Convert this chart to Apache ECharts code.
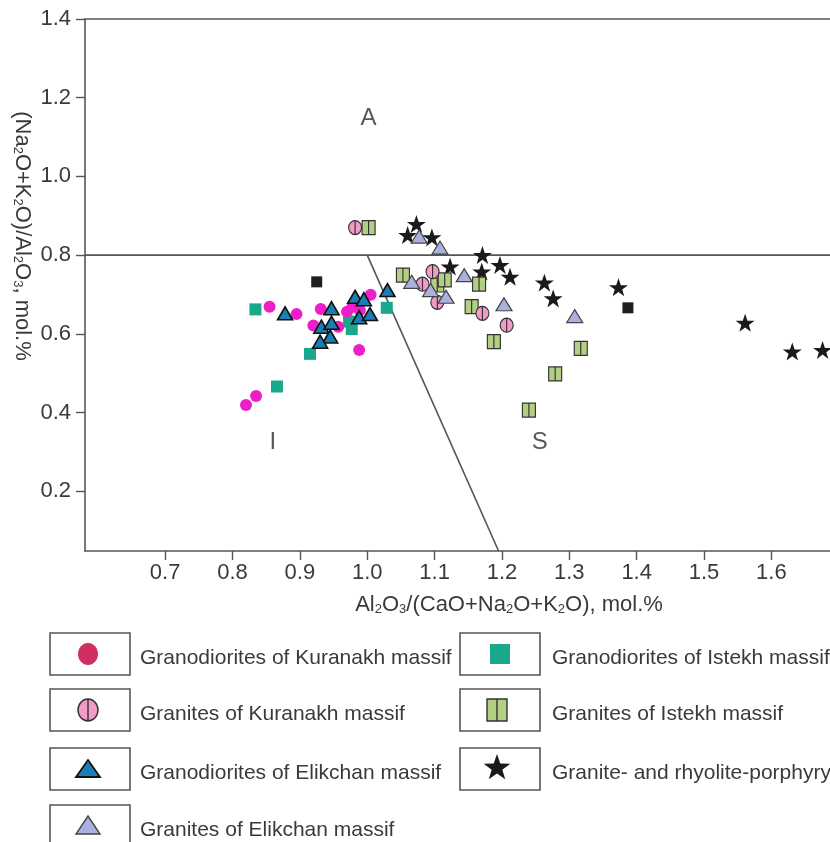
<!DOCTYPE html>
<html>
<head>
<meta charset="utf-8">
<script src="https://cdn.jsdelivr.net/npm/echarts@6/dist/echarts.min.js"></script>
<style>html,body{margin:0;padding:0;background:#fff}#c{width:830px;height:842px}</style>
</head>
<body>
<div id="c"></div>
<script>
// ---- data ----
const xTicks = [0.7, 0.8, 0.9, 1.0, 1.1, 1.2, 1.3, 1.4, 1.5, 1.6];
const yTicks = [0.2, 0.4, 0.6, 0.8, 1.0, 1.2, 1.4];
const granodioritesKuranakh = [[0.820,0.419],[0.835,0.442],[0.855,0.669],[0.895,0.650],[0.931,0.663],[0.920,0.621],[0.957,0.618],[0.970,0.656],[0.978,0.669],[0.989,0.660],[1.005,0.699],[0.988,0.559]];
const granitesKuranakh = [[0.982,0.870],[1.082,0.726],[1.097,0.758],[1.104,0.680],[1.171,0.652],[1.207,0.622]];
const granodioritesElikchan = [[0.878,0.652],[0.947,0.665],[0.932,0.618],[0.947,0.628],[0.945,0.593],[0.930,0.580],[0.982,0.694],[0.995,0.688],[0.988,0.642],[1.004,0.650],[1.030,0.711]];
const granitesElikchan = [[1.077,0.847],[1.108,0.819],[1.066,0.732],[1.094,0.711],[1.117,0.694],[1.144,0.749],[1.203,0.675],[1.308,0.645]];
const granodioritesIstekh = [[0.834,0.662],[0.973,0.631],[0.977,0.612],[0.915,0.549],[1.029,0.666],[0.866,0.466]];
const granitesIstekh = [[1.002,0.870],[1.053,0.749],[1.104,0.724],[1.115,0.737],[1.166,0.726],[1.155,0.669],[1.188,0.580],[1.317,0.563],[1.279,0.498],[1.240,0.406]];
const porphyry = [[1.073,0.879],[1.060,0.851],[1.096,0.845],[1.171,0.800],[1.197,0.775],[1.212,0.745],[1.170,0.758],[1.123,0.771],[1.263,0.730],[1.276,0.690],[1.373,0.718],[1.561,0.628],[1.631,0.555],[1.676,0.559]];
const otherSamples = [[0.925,0.732],[1.387,0.666]];
const xRange = [0.581, 1.687];
const yRange = [0.048, 1.4];
const boundaryH = [[0.581,0.8],[1.687,0.8]];
const boundaryD = [[1.0,0.8],[1.195,0.048]];
const fieldLabels = [['A',1.002,1.148],['I',0.86,0.325],['S',1.256,0.325]];
const legendNames = ['Granodiorites of Kuranakh massif','Granites of Kuranakh massif','Granodiorites of Elikchan massif','Granites of Elikchan massif','Granodiorites of Istekh massif','Granites of Istekh massif','Granite- and rhyolite-porphyry'];

// ---- styles ----
const FONT = '"Liberation Sans", Arial, sans-serif';
const TXT = '#3a3a3a';
const STAR = 'path://M50,0 L61.8,35.1 L98.1,35.1 L68.8,56.7 L79.4,90.9 L50,69.1 L20.6,90.9 L31.2,56.7 L1.9,35.1 L38.2,35.1 Z';
const SQBAR = 'path://M0,0 H20 V20 H0 Z M10,0 V20';
const CIRBAR = 'path://M10,0 A10,10 0 1 1 10,20 A10,10 0 1 1 10,0 Z M10,0 V20';

const chart = echarts.init(document.getElementById('c'), null, {renderer: 'canvas'});

const sub = {fontSize: 13, fontFamily: FONT, color: TXT, verticalAlign: 'bottom', lineHeight: 13};

function fmt(v) { return Number(v).toFixed(1); }

function starPoints(cx, cy, R, r) {
  const pts = [];
  for (let i = 0; i < 10; i++) {
    const rad = (i % 2 === 0) ? R : r;
    const a = -Math.PI / 2 + i * Math.PI / 5;
    pts.push([cx + rad * Math.cos(a), cy + rad * Math.sin(a)]);
  }
  return pts;
}

// legend graphics
const G = [];
const leftRows = [633, 689, 748, 805];
const rightRows = [633, 689, 748];
function box(x, y) {
  return {type: 'rect', shape: {x: x, y: y, width: 80, height: 42}, style: {fill: '#fff', stroke: '#555', lineWidth: 1.6}, silent: true};
}
function label(x, y, t) {
  return {type: 'text', x: x, y: y + 25, style: {text: t, fontSize: 21, fontFamily: FONT, fill: TXT, verticalAlign: 'middle', align: 'left'}, silent: true};
}
leftRows.forEach((y, i) => { G.push(box(50, y)); G.push(label(140, y, legendNames[i])); });
rightRows.forEach((y, i) => { G.push(box(460, y)); G.push(label(552, y, legendNames[4 + i])); });
G.push({type: 'ellipse', shape: {cx: 88, cy: 654, rx: 10, ry: 11}, style: {fill: '#d02f62'}});
G.push({type: 'ellipse', shape: {cx: 88, cy: 710, rx: 10, ry: 11}, style: {fill: '#f29ac8', stroke: '#333', lineWidth: 1.4}});
G.push({type: 'line', shape: {x1: 88, y1: 699, x2: 88, y2: 721}, style: {stroke: '#333', lineWidth: 1.4}});
G.push({type: 'polygon', shape: {points: [[88, 760], [100, 777], [76, 777]]}, style: {fill: '#1b7db3', stroke: '#111', lineWidth: 1.8}});
G.push({type: 'polygon', shape: {points: [[88, 816], [100, 834], [76, 834]]}, style: {fill: '#a9b1dc', stroke: '#444', lineWidth: 1.4}});
G.push({type: 'rect', shape: {x: 490, y: 644, width: 20, height: 20}, style: {fill: '#1aa88d'}});
G.push({type: 'rect', shape: {x: 487, y: 699, width: 20, height: 22}, style: {fill: '#b3cf84', stroke: '#333', lineWidth: 1.4}});
G.push({type: 'line', shape: {x1: 497, y1: 699, x2: 497, y2: 721}, style: {stroke: '#333', lineWidth: 1.4}});
G.push({type: 'polygon', shape: {points: starPoints(497, 768, 14, 5.6)}, style: {fill: '#1a1a1a'}});
// axis titles
G.push({type: 'text', x: 509, y: 605, style: {
  text: 'Al{s|2}O{s|3}/(CaO+Na{s|2}O+K{s|2}O), mol.%', align: 'center', verticalAlign: 'middle',
  fontSize: 22, fontFamily: FONT, fill: TXT, rich: {s: sub}}});
G.push({type: 'text', x: 22, y: 236, rotation: -Math.PI / 2, style: {
  text: '(Na{s|2}O+K{s|2}O)/Al{s|2}O{s|3}, mol.%', align: 'center', verticalAlign: 'middle',
  fontSize: 22, fontFamily: FONT, fill: TXT, rich: {s: sub}}});

const scatter = (name, data, symbol, size, color, border, bw) => ({
  name: name, type: 'scatter', data: data, symbol: symbol, symbolSize: size,
  itemStyle: {color: color, borderColor: border || color, borderWidth: bw || 0, opacity: 1},
  emphasis: {disabled: true}, z: 3
});

const option = {
  animation: false,
  backgroundColor: '#fff',
  grid: {left: 85, right: 0, top: 19, bottom: 291},
  xAxis: [{
    type: 'value', min: xRange[0], max: xRange[1], position: 'bottom',
    axisLine: {show: true, onZero: false, lineStyle: {color: '#555', width: 1.6}},
    axisTick: {show: true, length: 9, customValues: xTicks, lineStyle: {color: '#555', width: 1.4}},
    axisLabel: {customValues: xTicks, formatter: fmt, fontSize: 22, fontFamily: FONT, color: TXT, margin: 11},
    splitLine: {show: false}
  }, {
    type: 'value', min: xRange[0], max: xRange[1], position: 'top',
    axisLine: {show: true, onZero: false, lineStyle: {color: '#555', width: 1.6}},
    axisTick: {show: false}, axisLabel: {show: false}, splitLine: {show: false}
  }],
  yAxis: {
    type: 'value', min: yRange[0], max: yRange[1],
    axisLine: {show: true, onZero: false, lineStyle: {color: '#555', width: 1.6}},
    axisTick: {show: true, length: 9, customValues: yTicks, lineStyle: {color: '#555', width: 1.4}},
    axisLabel: {customValues: yTicks, formatter: fmt, fontSize: 22, fontFamily: FONT, color: TXT, margin: 14},
    splitLine: {show: false}
  },
  graphic: G,
  series: [
    {type: 'line', data: boundaryH, symbol: 'none', lineStyle: {color: '#555', width: 1.6}, silent: true, z: 2},
    {type: 'line', data: boundaryD, symbol: 'none', lineStyle: {color: '#555', width: 1.6}, silent: true, z: 2},
    {type: 'scatter', data: fieldLabels.map(d => ({value: [d[1], d[2]], label: {formatter: d[0]}})),
      symbolSize: 0, silent: true,
      label: {show: true, position: 'inside', fontSize: 24, fontFamily: FONT, color: '#2e2e2e'}},
    scatter('Other', otherSamples, 'rect', 11, '#1f1f1f'),
    scatter(legendNames[4], granodioritesIstekh, 'rect', 12, '#1aa88d'),
    scatter(legendNames[0], granodioritesKuranakh, 'circle', 12, '#ee1fc8'),
    scatter(legendNames[2], granodioritesElikchan, 'triangle', [15, 13], '#1b7db3', '#111', 1.6),
    scatter(legendNames[6], porphyry, STAR, [19, 18], '#1a1a1a'),
    scatter(legendNames[5], granitesIstekh, SQBAR, [13, 14], '#b3cf84', '#333', 1.2),
    scatter(legendNames[1], granitesKuranakh, CIRBAR, [13, 14], '#f29ac8', '#333', 1.2),
    scatter(legendNames[3], granitesElikchan, 'triangle', [16, 13], '#a9b1dc', '#444', 1.2)
  ]
};
chart.setOption(option);
</script>
</body>
</html>
